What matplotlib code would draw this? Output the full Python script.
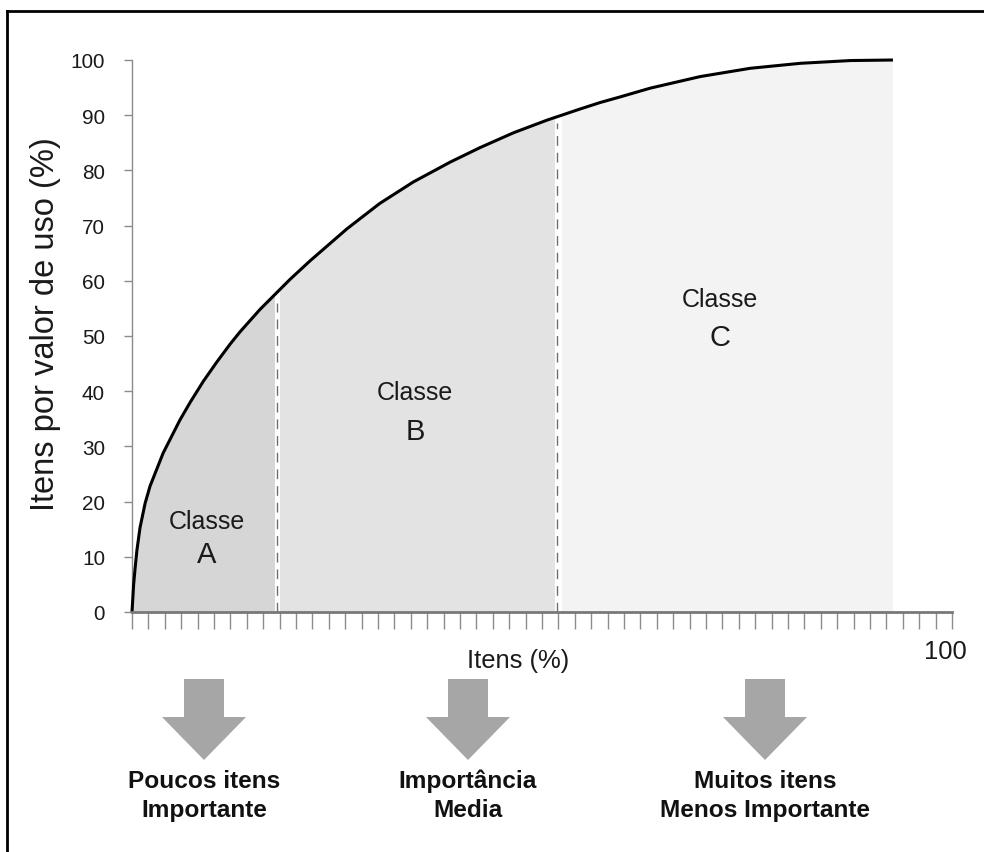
import numpy as np
import matplotlib
matplotlib.use("Agg")
import matplotlib.pyplot as plt
from matplotlib import font_manager
from matplotlib.patches import Polygon
from matplotlib.lines import Line2D

# dados (curva ABC)
itens = [0, 0.2, 0.37, 0.6, 0.98, 1.6, 2.2, 3.8, 5.85, 7.1, 8.7, 10.3,
         12.0, 13.2, 15.6, 19.3, 21.7, 26.2, 30.2, 34.3, 38.8, 42.4, 46.5,
         50.6, 54.6, 57.1, 59.5, 63.2, 69.3, 75.4, 81.5, 87.6, 92.8]
valor = [0, 5.0, 7.8, 11.2, 15.3, 19.7, 22.8, 28.8, 34.8, 38.0, 41.8, 45.2,
         48.6, 50.8, 54.8, 60.3, 63.6, 69.4, 74.0, 77.9, 81.5, 84.1, 86.8,
         89.1, 91.1, 92.3, 93.3, 94.9, 97.0, 98.5, 99.4, 99.9, 100]

classes = ["A", "B", "C"]
limites = [0, 17.7, 51.8, 92.8]          # fronteiras das classes em itens (%)
topo_tracejado = [56, 88.5]              # onde terminam as linhas tracejadas
yticks = list(range(0, 101, 10))
legendas = ["Poucos itens\nImportante", "Importância\nMedia",
            "Muitos itens\nMenos Importante"]

nomes = {f.name for f in font_manager.fontManager.ttflist}
if "Liberation Sans Narrow" in nomes:
    estreita, k = "Liberation Sans Narrow", 1.0
else:
    estreita, k = "Liberation Sans", 0.88
normal = "Liberation Sans"

W, H = 984, 853
fig = plt.figure(figsize=(W / 100, H / 100), dpi=100)


def px(x, y):
    return (x / W, (H - y) / H)


ax = fig.add_axes([132 / W, (H - 613) / H, 820 / W, 552 / H])
ax.set_xlim(0, 100)
ax.set_ylim(0, 100)

# area sob a curva, pintada por classe
area = Polygon(list(zip(itens, valor)) + [(itens[-1], 0), (0, 0)],
               closed=True, facecolor="none", edgecolor="none")
ax.add_patch(area)
cores = ["#d6d6d6", "#e3e3e3", "#f3f3f3"]
folgas = [(0, -0.25), (0.35, -0.25), (0.6, 0)]
for i in range(3):
    a = limites[i] + folgas[i][0]
    b = limites[i + 1] + folgas[i][1]
    faixa = ax.axvspan(a, b, color=cores[i], lw=0, zorder=1)
    faixa.set_clip_path(area)

ax.plot(itens, valor, color="black", lw=2.2, zorder=4, clip_on=False,
        solid_capstyle="butt", solid_joinstyle="round")

for xb, yt in zip(limites[1:3], topo_tracejado):
    ax.plot([xb, xb], [0, yt], color="#6e6e6e", lw=1, ls=(0, (7, 5)), zorder=3)

# textos das classes
pos_classe = [(9.15, 16.5, 10.5), (34.5, 39.9, 32.8), (71.7, 56.7, 49.8)]
for c, (xc, y1, y2) in zip(classes, pos_classe):
    ax.text(xc, y1, "Classe", ha="center", va="center", fontsize=18,
            family=normal, color="#1a1a1a", zorder=5)
    ax.text(xc, y2, c, ha="center", va="center", fontsize=21,
            family=normal, color="#1a1a1a", zorder=5)

for s in ["top", "right"]:
    ax.spines[s].set_visible(False)
ax.spines["left"].set_color("#8a8a8a")
ax.spines["left"].set_linewidth(1)
ax.spines["bottom"].set_color("#787878")
ax.spines["bottom"].set_linewidth(2)
ax.spines["bottom"].set_zorder(5)

ax.set_xticks(np.arange(0, 101, 2))
ax.set_xticklabels([])
ax.tick_params(axis="x", direction="out", length=12, width=1, color="#8c8c8c")
ax.set_yticks(yticks)
ax.set_yticklabels([str(v) for v in yticks], family=estreita,
                   fontsize=17 * k, color="#1a1a1a")
ax.tick_params(axis="y", direction="out", length=6, width=1, color="#8c8c8c",
               pad=13.5)

ax.set_ylabel("Itens por valor de uso (%)", family=normal, fontsize=23.5,
              color="#1a1a1a")
ax.yaxis.set_label_coords(-0.106, 0.5236)
ax.yaxis.label.set_va("center")
ax.set_xlabel("Itens (%)", family=estreita, fontsize=21 * k, color="#1a1a1a")
ax.xaxis.set_label_coords(0.471, -0.087)
ax.xaxis.label.set_va("center")
ax.annotate("100", xy=(100, 0), xytext=(-7, -39), textcoords="offset pixels",
            ha="center", va="center", family=estreita, fontsize=21 * k,
            color="#1a1a1a")

# setas e legendas abaixo do grafico
centros = [204, 468, 765]
for xc, txt in zip(centros, legendas):
    seta = [px(xc - 20, 680), px(xc + 20, 680), px(xc + 20, 718),
            px(xc + 42, 718), px(xc, 761), px(xc - 42, 718), px(xc - 20, 718)]
    fig.add_artist(Polygon(seta, closed=True, transform=fig.transFigure,
                           facecolor="#a6a6a6", edgecolor="none"))
    fig.text(*px(xc, 796), txt, ha="center", va="center", family=estreita,
             fontsize=20 * k, fontweight="bold", linespacing=1.35,
             color="#111111")

# moldura (esquerda e topo)
fig.add_artist(Line2D([7 / W, 7 / W], [0, (H - 12) / H],
                      transform=fig.transFigure, color="black", lw=2))
fig.add_artist(Line2D([7 / W, 1], [(H - 12) / H, (H - 12) / H],
                      transform=fig.transFigure, color="black", lw=2))

fig.savefig("out.png", dpi=100)
